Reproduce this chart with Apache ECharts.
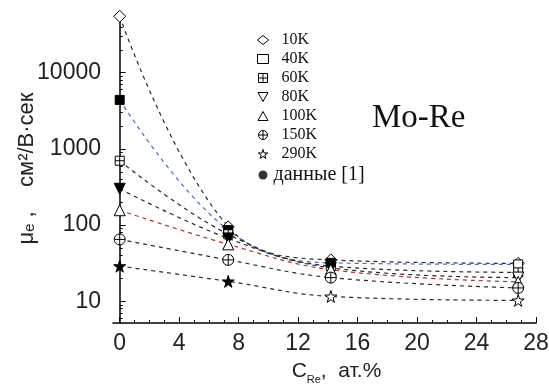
<!DOCTYPE html>
<html>
<head>
<meta charset="utf-8">
<script src="https://cdn.jsdelivr.net/npm/echarts@6/dist/echarts.min.js"></script>
<style>
  html, body { margin: 0; padding: 0; background: #fff; }
  #chart { width: 549px; height: 385px; }
</style>
</head>
<body>
<div id="chart"></div>
<script>
// Re concentration, at.%
const conc = [0, 7.3, 14.2, 26.8];

// electron mobility, cm^2/(V*s), one list per temperature
const temps = ['10K', '40K', '60K', '80K', '100K', '150K', '290K'];
const mu10K = [55000, 95, 35, 31.5];
const mu40K = [4400, 86, 32, 30.5];
const mu60K = [700, 76, 29, 24];
const mu80K = [300, 67, 27.5, 20.5];
const mu100K = [157, 56, 26, 18];
const mu150K = [65, 35, 20.5, 15];
const mu290K = [29, 18.3, 11.6, 10.3];

// points taken from reference [1] (drawn filled)
const ref10K = [0, 0, 0, 0];
const ref40K = [1, 1, 1, 0];
const ref60K = [0, 0, 0, 0];
const ref80K = [1, 1, 1, 0];
const ref100K = [0, 0, 0, 0];
const ref150K = [0, 0, 0, 0];
const ref290K = [1, 1, 0, 0];

const xMinor = [0,1,2,3,4,5,6,7,8,9,10,11,12,13,14,15,16,17,18,19,20,21,22,23,24,25,26,27,28];
const xMajor = [0, 4, 8, 12, 16, 20, 24, 28];
const yMinor = [6, 7, 8, 9, 20, 30, 40, 50, 60, 70, 80, 90, 200, 300, 400, 500, 600, 700, 800, 900,
  2000, 3000, 4000, 5000, 6000, 7000, 8000, 9000, 20000, 30000, 40000, 50000];

const SQ_PLUS = 'path://M0,0H10V10H0Z M5,0V10 M0,5H10';
const CIR_PLUS = 'path://M0,5A5,5,0,1,1,10,5A5,5,0,1,1,0,5Z M5,0V10 M0,5H10';
const STAR = 'path://M50,0L61,35H98L68,57L79,91L50,70L21,91L32,57L2,35H39Z';
const TRI_DOWN = 'path://M0,0H10L5,9Z';
const TRI_UP = 'path://M5,0L10,9H0Z';

const defs = [
  { name: temps[0], mu: mu10K, ref: ref10K, symbol: 'diamond', size: 12, color: '#2a2a2a' },
  { name: temps[1], mu: mu40K, ref: ref40K, symbol: 'rect', size: 9, color: '#4a6cc4' },
  { name: temps[2], mu: mu60K, ref: ref60K, symbol: SQ_PLUS, size: 9, color: '#2a2a2a' },
  { name: temps[3], mu: mu80K, ref: ref80K, symbol: TRI_DOWN, size: 11, color: '#2a2a2a' },
  { name: temps[4], mu: mu100K, ref: ref100K, symbol: TRI_UP, size: 11, color: '#a83232' },
  { name: temps[5], mu: mu150K, ref: ref150K, symbol: CIR_PLUS, size: 11, color: '#2a2a2a' },
  { name: temps[6], mu: mu290K, ref: ref290K, symbol: STAR, size: 12, color: '#2a2a2a' },
];

const series = defs.map(d => ({
  type: 'line',
  name: d.name,
  smooth: 0.4,
  symbol: d.symbol,
  symbolSize: d.size,
  lineStyle: { color: d.color, width: 1.2, type: [4, 4] },
  itemStyle: { color: '#fff', borderColor: '#000', borderWidth: 1 },
  data: conc.map((x, i) => d.ref[i]
    ? { value: [x, d.mu[i]], itemStyle: { color: '#000' } }
    : [x, d.mu[i]]),
  z: 3,
}));
series.push({ type: 'scatter', name: 'данные [1]', data: [] });

const legendData = defs.map(d => ({
  name: d.name,
  icon: d.symbol,
  itemStyle: { color: '#fff', borderColor: '#000', borderWidth: 1 },
  textStyle: { padding: [0, 0, 0, 8] },
}));
legendData.push({ name: 'данные [1]', icon: 'circle', itemStyle: { color: '#000', borderWidth: 0 },
  textStyle: { fontSize: 20, lineHeight: 16, padding: [0, 0, 0, 0] } });

const chart = echarts.init(document.getElementById('chart'));
chart.setOption({
  animation: false,
  backgroundColor: '#fff',
  title: {
    text: 'Mo-Re', left: 372, top: 102, padding: 0,
    textStyle: { fontFamily: 'Liberation Serif', fontWeight: 'normal', fontSize: 33, color: '#111' },
  },
  legend: {
    orient: 'vertical', left: 257, top: 32, padding: 0,
    itemWidth: 11, itemHeight: 9, itemGap: 3,
    selectedMode: false,
    textStyle: { fontFamily: 'Liberation Serif', fontSize: 16, color: '#111', lineHeight: 16 },
    data: legendData,
  },
  grid: { left: 113, right: 13, top: 14, bottom: 62, outerBoundsMode: 'none', containLabel: false },
  xAxis: [{
    type: 'value', min: -0.45, max: 28,
    name: '{a|C}{s|Re}{a|,  ат.%}', nameLocation: 'middle', nameGap: 38,
    nameTextStyle: {
      padding: [0, 0, 0, 24],
      rich: {
        a: { fontFamily: 'Liberation Sans', fontSize: 21, color: '#222', lineHeight: 24, verticalAlign: 'top' },
        s: { fontFamily: 'Liberation Sans', fontSize: 11, color: '#222', lineHeight: 24, verticalAlign: 'bottom' },
      },
    },
    axisLine: { lineStyle: { color: '#000', width: 1.5 } },
    axisTick: { inside: true, length: 3, customValues: xMinor, lineStyle: { color: '#000' } },
    axisLabel: { customValues: xMajor, fontFamily: 'Liberation Sans', fontSize: 23, color: '#222', margin: 9 },
    splitLine: { show: false },
  }, {
    type: 'value', min: -0.45, max: 28, position: 'bottom',
    axisLine: { show: false },
    axisTick: { inside: true, length: 6, customValues: xMajor, lineStyle: { color: '#000' } },
    axisLabel: { show: false },
    splitLine: { show: false },
  }],
  yAxis: [{
    type: 'log', min: 5.2, max: 59000,
    name: 'μₑ ,    см²/В·сек', nameLocation: 'middle', nameGap: 75, nameRotate: 90,
    nameMoveOverlap: false,
    nameTextStyle: { fontFamily: 'Liberation Sans', fontSize: 22, color: '#222' },
    axisLine: { lineStyle: { color: '#000', width: 1.5 } },
    axisTick: { inside: true, length: 6, lineStyle: { color: '#000' } },
    axisLabel: {
      showMinLabel: false, showMaxLabel: false,
      fontFamily: 'Liberation Sans', fontSize: 23, color: '#222', margin: 12,
      formatter: v => String(v),
    },
    splitLine: { show: false },
  }, {
    type: 'log', min: 5.2, max: 59000, position: 'left',
    axisLine: { show: false },
    axisTick: { inside: true, length: 3, customValues: yMinor, lineStyle: { color: '#000' } },
    axisLabel: { show: false },
    splitLine: { show: false },
  }],
  series: series,
});
</script>
</body>
</html>
